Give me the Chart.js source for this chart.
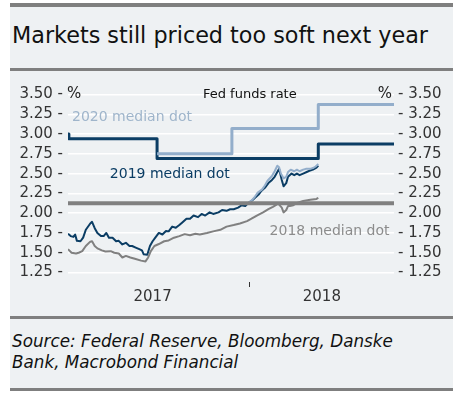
<!DOCTYPE html>
<html>
<head>
<meta charset="utf-8">
<script src="https://cdn.jsdelivr.net/npm/chart.js@4.4.1/dist/chart.umd.min.js"></script>
<style>
  body { margin: 0; background: #fff; width: 464px; height: 395px; position: relative; overflow: hidden; }
  #panel { position: absolute; left: 10px; top: 3px; width: 443px; height: 388px; background: #eef1f3; }
  .bar { position: absolute; left: 0; width: 443px; background: #7f7f7f; }
  #title { position: absolute; left: 2px; top: 19px; font: 22.3px "DejaVu Sans", sans-serif; color: #111; white-space: nowrap; }
  #source { position: absolute; left: 2px; top: 328px; font: italic 16.8px "DejaVu Sans", sans-serif; line-height: 21px; color: #111; white-space: nowrap; }
  #chart { position: absolute; left: 0; top: 68px; }
</style>
</head>
<body>
<div id="panel">
  <div class="bar" style="top:0;height:4px"></div>
  <div id="title">Markets still priced too soft next year</div>
  <div class="bar" style="top:65px;height:3px"></div>
  <canvas id="chart" width="443" height="245"></canvas>
  <div class="bar" style="top:313px;height:3px"></div>
  <div id="source">Source: Federal Reserve, Bloomberg, Danske<br>Bank, Macrobond Financial</div>
  <div class="bar" style="top:385px;height:3px"></div>
</div>
<script>
// x = дни с середины июня 2017
const xMin = 0, xMax = 366;
const yearStartDay = 203; // 1 янв 2018
const xTickDays = [95, 285];
const xTickLabels = ['2017', '2018'];
const yTicks = [1.25, 1.5, 1.75, 2.0, 2.25, 2.5, 2.75, 3.0, 3.25, 3.5];

// медианные точки ФРС (ступеньки)
const dot2018Days = [0, 366];
const dot2018 = [2.125, 2.125];
const dot2019Days = [0, 1, 100, 281, 366];
const dot2019 = [3.0, 2.94, 2.69, 2.875, 2.875];
const dot2020Days = [100, 184, 281, 366];
const dot2020 = [2.75, 3.07, 3.375, 3.375];

// рыночные ожидания
const mkt2019Days = [0, 3, 6, 8, 10, 14, 17, 20, 25, 27, 30, 33, 37, 40, 43, 46, 50, 54, 57, 61, 65, 69, 72, 76, 80, 83, 85, 89, 92, 95, 98, 102, 106, 110, 113, 117, 121, 125, 128, 133, 137, 141, 146, 150, 154, 159, 163, 169, 173, 178, 182, 186, 191, 195, 199, 202, 206, 210, 214, 217, 221, 225, 229, 232, 235, 237, 240, 242, 245, 247, 251, 254, 257, 260, 264, 268, 272, 275, 279, 281];
const mkt2019 = [1.74, 1.71, 1.70, 1.73, 1.65, 1.645, 1.69, 1.79, 1.87, 1.89, 1.81, 1.75, 1.71, 1.71, 1.75, 1.69, 1.69, 1.645, 1.65, 1.605, 1.625, 1.585, 1.585, 1.565, 1.545, 1.53, 1.48, 1.475, 1.585, 1.645, 1.69, 1.75, 1.73, 1.775, 1.77, 1.83, 1.815, 1.85, 1.88, 1.93, 1.93, 1.97, 1.95, 1.99, 1.97, 2.01, 1.99, 2.01, 2.04, 2.03, 2.05, 2.05, 2.07, 2.10, 2.09, 2.125, 2.155, 2.195, 2.235, 2.28, 2.32, 2.38, 2.42, 2.46, 2.52, 2.56, 2.42, 2.34, 2.38, 2.46, 2.50, 2.48, 2.50, 2.48, 2.50, 2.52, 2.54, 2.55, 2.575, 2.60];
const mkt2018Days = [0, 4, 9, 12, 16, 20, 25, 27, 30, 33, 38, 42, 48, 52, 57, 61, 65, 70, 76, 82, 87, 90, 93, 97, 102, 108, 113, 119, 125, 131, 137, 143, 148, 156, 163, 171, 178, 186, 193, 201, 206, 212, 219, 225, 230, 236, 240, 242, 245, 247, 249, 253, 257, 264, 272, 279, 281];
const mkt2018 = [1.545, 1.50, 1.49, 1.50, 1.52, 1.585, 1.64, 1.645, 1.585, 1.555, 1.53, 1.515, 1.52, 1.50, 1.49, 1.44, 1.46, 1.44, 1.42, 1.40, 1.39, 1.44, 1.52, 1.585, 1.61, 1.645, 1.655, 1.69, 1.71, 1.735, 1.72, 1.74, 1.73, 1.75, 1.77, 1.79, 1.83, 1.85, 1.87, 1.90, 1.93, 1.97, 2.01, 2.05, 2.08, 2.12, 2.07, 2.01, 2.04, 2.09, 2.09, 2.10, 2.13, 2.155, 2.17, 2.18, 2.195];
const mkt2020Days = [202, 207, 210, 213, 218, 221, 224, 229, 232, 235, 237, 239, 242, 245, 247, 250, 254, 257, 260, 264, 267, 272, 275, 278, 281];
const mkt2020 = [2.125, 2.17, 2.21, 2.26, 2.30, 2.35, 2.41, 2.47, 2.53, 2.60, 2.58, 2.50, 2.44, 2.46, 2.52, 2.55, 2.53, 2.55, 2.53, 2.55, 2.56, 2.56, 2.57, 2.59, 2.62];

const navy = '#0b3d64', lightBlue = '#93aecb', grey = '#808080';
const pts = (xs, ys) => xs.map((x, i) => ({ x: x, y: ys[i] }));

// подписи внутри графика
const notes = [
  { text: '2020 median dot', x: 4.5, y: 3.207, color: '#9fb5cb', align: 'left' },
  { text: '2019 median dot', x: 47, y: 2.485, color: navy, align: 'left' },
  { text: '2018 median dot', x: 361, y: 1.776, color: '#8c8c8c', align: 'right' },
  { text: 'Fed funds rate', x: 151.5, y: 3.5, color: '#111', align: 'left', size: 13 }
];

const decorations = {
  id: 'decorations',
  afterDatasetsDraw(chart) {
    const { ctx, chartArea, scales } = chart;
    ctx.save();
    ctx.textBaseline = 'middle';
    notes.forEach(n => {
      ctx.font = (n.size || 14) + 'px "DejaVu Sans"';
      ctx.fillStyle = n.color;
      ctx.textAlign = n.align;
      ctx.fillText(n.text, scales.x.getPixelForValue(n.x), scales.y.getPixelForValue(n.y));
    });
    ctx.font = '15px "DejaVu Sans"';
    ctx.fillStyle = '#222';
    const yp = scales.y.getPixelForValue(3.5);
    ctx.textAlign = 'left';
    ctx.fillText('%', chartArea.left - 1, yp);
    ctx.textAlign = 'right';
    ctx.fillText('%', chartArea.right - 2, yp);
    // засечка начала 2018 года
    const tx = Math.round(scales.x.getPixelForValue(yearStartDay)) + 0.5;
    ctx.strokeStyle = '#333';
    ctx.lineWidth = 1;
    ctx.beginPath();
    ctx.moveTo(tx, chartArea.bottom);
    ctx.lineTo(tx, chartArea.bottom + 5);
    ctx.stroke();
    ctx.restore();
  }
};

const yAxis = (pos, width) => ({
  type: 'linear',
  position: pos,
  min: 1.13,
  max: 3.62,
  afterBuildTicks: s => { s.ticks = yTicks.map(v => ({ value: v })); },
  afterFit: s => { s.width = width; },
  grid: { display: pos === 'left', color: '#ffffff', lineWidth: 1.5, drawTicks: false },
  border: { display: false },
  ticks: {
    padding: pos === 'left' ? 5 : 4,
    color: '#333',
    font: { family: 'DejaVu Sans', size: 15 },
    callback: v => pos === 'left' ? v.toFixed(2) + ' -' : '- ' + v.toFixed(2)
  }
});

new Chart(document.getElementById('chart'), {
  type: 'line',
  data: {
    datasets: [
      { data: pts(dot2018Days, dot2018), borderColor: grey, borderWidth: 4 },
      { data: pts(mkt2018Days, mkt2018), borderColor: grey, borderWidth: 2 },
      { data: pts(dot2020Days, dot2020), borderColor: lightBlue, borderWidth: 3, stepped: 'before' },
      { data: pts(dot2019Days, dot2019), borderColor: navy, borderWidth: 3, stepped: 'before' },
      { data: pts(mkt2020Days, mkt2020), borderColor: lightBlue, borderWidth: 2 },
      { data: pts(mkt2019Days, mkt2019), borderColor: navy, borderWidth: 2 }
    ]
  },
  options: {
    responsive: false,
    animation: false,
    devicePixelRatio: 1,
    layout: { padding: { top: 7 } },
    elements: { point: { radius: 0 }, line: { tension: 0, borderJoinStyle: 'round' } },
    plugins: { legend: { display: false }, tooltip: { enabled: false } },
    scales: {
      x: {
        type: 'linear',
        min: xMin,
        max: xMax,
        afterBuildTicks: s => { s.ticks = xTickDays.map(v => ({ value: v })); },
        afterFit: s => { s.height = 34; },
        grid: { display: false, drawTicks: false },
        border: { display: false },
        ticks: {
          padding: 6,
          maxRotation: 0,
          color: '#333',
          font: { family: 'DejaVu Sans', size: 15 },
          callback: (v, i) => xTickLabels[i]
        }
      },
      y: yAxis('left', 58),
      y2: yAxis('right', 59)
    }
  },
  plugins: [decorations]
});
</script>
</body>
</html>
